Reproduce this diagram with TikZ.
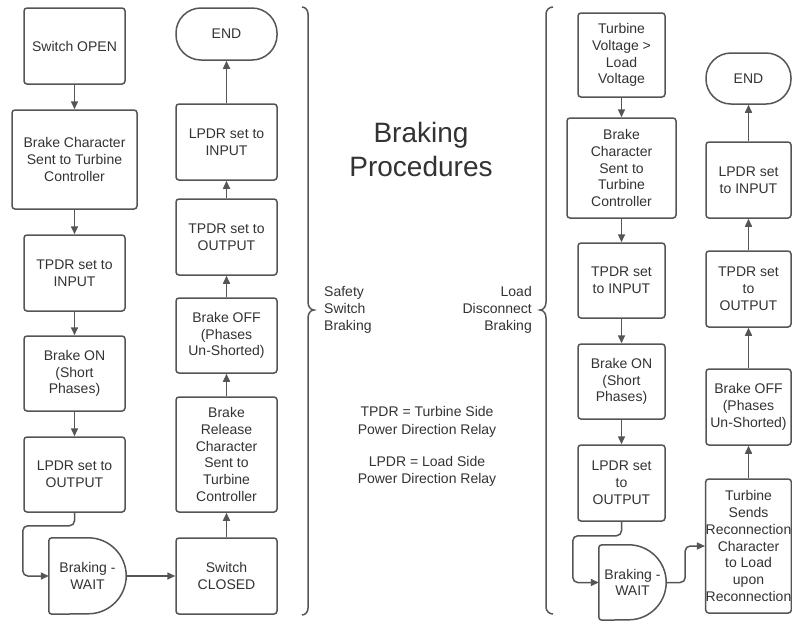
\documentclass[tikz,border=0pt]{standalone}
\usepackage{fontspec}
\setmainfont{Liberation Sans}
\usetikzlibrary{arrows.meta,calc}
\definecolor{lc}{HTML}{555555}
\definecolor{tc}{HTML}{333333}
\newcommand{\boxfont}{\fontsize{14pt}{16.8pt}\selectfont}
\newcommand{\titlefont}{\fontsize{28pt}{34pt}\selectfont}
\tikzset{
  box/.style={draw=lc, line width=1.5pt, rounded corners=3pt, fill=white, align=center,
    font=\boxfont, text=tc, inner sep=0pt},
  sz/.style 2 args={minimum width=#1pt, minimum height=#2pt},
  endbox/.style={box, rounded corners=25pt},
  waitnode/.style={align=center, font=\boxfont, text=tc, inner sep=0pt},
  arr/.style={draw=lc, line width=1.5pt, -{Triangle[length=8pt,width=7pt]}},
  brace/.style={draw=lc, line width=1.5pt},
  lbl/.style={font=\boxfont, text=tc, inner sep=0pt},
}
\begin{document}
\begin{tikzpicture}[x=1pt,y=-1pt]
\useasboundingbox (0,0) rectangle (792,622);
\fill[white] (0,0) rectangle (792,622);

% ---- Left flow: Safety Switch Braking ----
\node[box, sz={101}{76}] (A1) at (74.5,46) {Switch OPEN};
\node[box, sz={125}{99}] (A2) at (74.5,159.5) {Brake Character\\Sent to Turbine\\Controller};
\node[box, sz={101}{76}] (A3) at (74.5,273) {TPDR set to\\INPUT};
\node[box, sz={101}{75}] (A4) at (74.5,373.5) {Brake ON\\(Short\\Phases)};
\node[box, sz={101}{75}] (A5) at (74.5,474.5) {LPDR set to\\OUTPUT};
\node[waitnode, sz={77}{76}] (A6) at (87.5,576) {Braking -\\WAIT};
\draw[draw=lc, line width=1.5pt, fill=white]
  ($(A6.north east)+(-38,0)$) arc[start angle=-90, end angle=90, radius=38]
  [rounded corners=3pt] -- (A6.south west) -- (A6.north west) [sharp corners] -- cycle;
\node[waitnode] at (A6) {Braking -\\WAIT};

\node[endbox, sz={101}{52}] (B1) at (226.5,34) {END};
\node[box, sz={101}{76}] (B2) at (226.5,142) {LPDR set to\\INPUT};
\node[box, sz={101}{76}] (B3) at (226.5,237) {TPDR set to\\OUTPUT};
\node[box, sz={101}{75}] (B4) at (226.5,335.5) {Brake OFF\\(Phases\\Un-Shorted)};
\node[box, sz={101}{115}] (B5) at (226.5,454.5) {Brake\\Release\\Character\\Sent to\\Turbine\\Controller};
\node[box, sz={101}{76}] (B6) at (226.5,576) {Switch\\CLOSED};

\draw[arr] (A1) -- (A2);
\draw[arr] (A2) -- (A3);
\draw[arr] (A3) -- (A4);
\draw[arr] (A4) -- (A5);
\draw[arr, rounded corners=5pt] (A5.south) -- ($(A5.south)+(0,13)$) -| ($(A6.west)+(-26,0)$) -- (A6.west);
\draw[arr] (A6.east) -- (B6.west);
\draw[arr] (B6) -- (B5);
\draw[arr] (B5) -- (B4);
\draw[arr] (B4) -- (B3);
\draw[arr] (B3) -- (B2);
\draw[arr] (B2) -- (B1);

% ---- Right flow: Load Disconnect Braking ----
\node[box, sz={87}{84}] (C1) at (621.5,55) {Turbine\\Voltage >\\Load\\Voltage};
\node[box, sz={109}{100}] (C2) at (621.5,168) {Brake\\Character\\Sent to\\Turbine\\Controller};
\node[box, sz={87}{75}] (C3) at (621.5,280.5) {TPDR set\\to INPUT};
\node[box, sz={87}{75}] (C4) at (621.5,381.5) {Brake ON\\(Short\\Phases)};
\node[box, sz={87}{76}] (C5) at (621.5,483) {LPDR set\\to\\OUTPUT};
\node[waitnode, sz={67}{75}] (C6) at (632.5,582.5) {Braking -\\WAIT};
\draw[draw=lc, line width=1.5pt, fill=white]
  ($(C6.north east)+(-37.5,0)$) arc[start angle=-90, end angle=90, radius=37.5]
  [rounded corners=3pt] -- (C6.south west) -- (C6.north west) [sharp corners] -- cycle;
\node[waitnode] at (C6) {Braking -\\WAIT};

\node[endbox, sz={85}{51}] (D1) at (748.5,78.5) {END};
\node[box, sz={85}{76}] (D2) at (748.5,180) {LPDR set\\to INPUT};
\node[box, sz={85}{76}] (D3) at (748.5,289) {TPDR set\\to\\OUTPUT};
\node[box, sz={85}{76}] (D4) at (748.5,407) {Brake OFF\\(Phases\\Un-Shorted)};
\node[box, sz={85}{134}] (D5) at (748.5,546) {Turbine\\Sends\\Reconnection\\Character\\to Load\\upon\\Reconnection};

\draw[arr] (C1) -- (C2);
\draw[arr] (C2) -- (C3);
\draw[arr] (C3) -- (C4);
\draw[arr] (C4) -- (C5);
\draw[arr, rounded corners=5pt] (C5.south) -- ($(C5.south)+(0,14)$) -| ($(C6.west)+(-26,0)$) -- (C6.west);
\draw[arr, rounded corners=5pt] (C6.east) -- ($(C6.east)+(19,0)$) |- (D5.west);
\draw[arr] (D5) -- (D4);
\draw[arr] (D4) -- (D3);
\draw[arr] (D3) -- (D2);
\draw[arr] (D2) -- (D1);

% ---- Braces ----
\coordinate (lbt) at (302,7);
\coordinate (lbm) at (314,310);
\coordinate (lbb) at (302,615);
\draw[brace] (lbt) to[out=0,in=90] (308,14) -- (308,302) to[out=-90,in=180] (lbm)
  to[out=180,in=90] (308,318) -- (308,608) to[out=-90,in=0] (lbb);
\coordinate (rbt) at (553,7);
\coordinate (rbm) at (540,310);
\coordinate (rbb) at (553,614);
\draw[brace] (rbt) to[out=180,in=90] (546,14) -- (546,302) to[out=-90,in=0] (rbm)
  to[out=0,in=90] (546,318) -- (546,607) to[out=-90,in=180] (rbb);

% ---- Labels ----
\node[lbl, font=\titlefont, align=center] (title) at (421,149) {Braking\\Procedures};
\node[lbl, align=left, anchor=west] (ssb) at (324,310) {Safety\\Switch\\Braking};
\node[lbl, align=right, anchor=east] (ldb) at (532,310) {Load\\Disconnect\\Braking};
\node[lbl, align=center, font=\fontsize{14pt}{17.5pt}\selectfont] (tpdr) at (427,422) {TPDR = Turbine Side\\Power Direction Relay};
\node[lbl, align=center, font=\fontsize{14pt}{17.5pt}\selectfont] (lpdr) at (427,471.5) {LPDR = Load Side\\Power Direction Relay};
\end{tikzpicture}
\end{document}
